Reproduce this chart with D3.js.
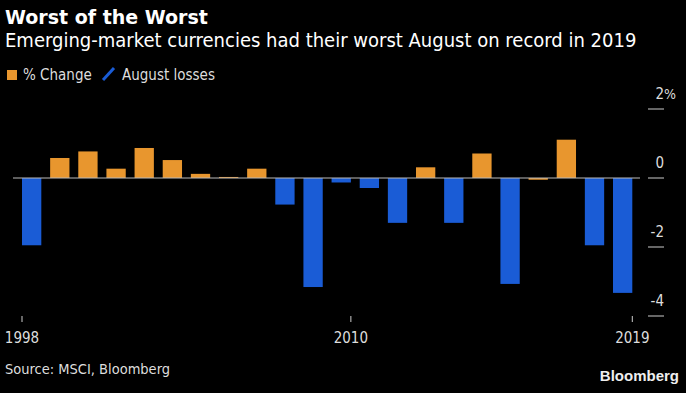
<!DOCTYPE html>
<html>
<head>
<meta charset="utf-8">
<script src="https://cdn.jsdelivr.net/npm/d3@7"></script>
<style>
  html, body { margin: 0; padding: 0; background: #000; }
  svg { display: block; }
  text { font-family: "DejaVu Sans Condensed", "DejaVu Sans", sans-serif; }
</style>
</head>
<body>
<script>
// August % change of EM currencies, 1998 - 2019
var years = [1998, 1999, 2000, 2001, 2002, 2003, 2004, 2005, 2006, 2007, 2008,
             2009, 2010, 2011, 2012, 2013, 2014, 2015, 2016, 2017, 2018, 2019];
var pct_change = [-1.95, 0.58, 0.77, 0.27, 0.87, 0.52, 0.12, 0.03, 0.27, -0.77, -3.16,
                  -0.13, -0.29, -1.30, 0.31, -1.30, 0.71, -3.07, -0.05, 1.11, -1.95, -3.33];
// years drawn in blue
var loss_years = [1998, 2007, 2008, 2009, 2010, 2011, 2013, 2015, 2018, 2019];
var y_ticks = [2, 0, -2, -4];
var x_ticks = [1998, 2010, 2019];

var width = 686;
var height = 393;
var orange = "#E8962E";
var blue = "#1A5CD6";

var svg = d3.select("body").append("svg")
    .attr("width", width)
    .attr("height", height);

// Titles
svg.append("text")
    .attr("x", 5).attr("y", 24)
    .style("font-family", "'DejaVu Sans', sans-serif")
    .style("font-weight", "bold")
    .style("font-size", "19px")
    .attr("fill", "#fff")
    .text("Worst of the Worst");

svg.append("text")
    .attr("x", 5).attr("y", 47)
    .style("font-size", "20px")
    .attr("fill", "#fff")
    .text("Emerging-market currencies had their worst August on record in 2019");

// Legend
var legend = svg.append("g");
legend.append("rect")
    .attr("x", 7).attr("y", 70)
    .attr("width", 10).attr("height", 10)
    .attr("fill", orange);
legend.append("text")
    .attr("x", 23).attr("y", 80)
    .style("font-size", "15px")
    .attr("fill", "#ddd")
    .text("% Change");
legend.append("line")
    .attr("x1", 103).attr("y1", 80)
    .attr("x2", 114).attr("y2", 68)
    .attr("stroke", blue)
    .attr("stroke-width", 3);
legend.append("text")
    .attr("x", 122).attr("y", 80)
    .style("font-size", "15px")
    .attr("fill", "#ddd")
    .text("August losses");

// Scales
var x = d3.scaleBand()
    .domain(years)
    .range([22, 632.3])
    .paddingInner(0.314)
    .paddingOuter(0);

var y = d3.scaleLinear()
    .domain([-4, 2])
    .range([316, 109]);

// Bars
svg.selectAll("rect.bar")
    .data(years)
    .enter()
    .append("rect")
    .attr("class", "bar")
    .attr("x", function (d) { return x(d); })
    .attr("width", x.bandwidth())
    .attr("y", function (d, i) { return y(Math.max(0, pct_change[i])); })
    .attr("height", function (d, i) { return Math.abs(y(pct_change[i]) - y(0)); })
    .attr("fill", function (d) { return loss_years.indexOf(d) >= 0 ? blue : orange; });

// Zero line
svg.append("line")
    .attr("x1", 13).attr("x2", 640)
    .attr("y1", y(0)).attr("y2", y(0))
    .attr("stroke", "#bbb")
    .attr("stroke-width", 1);

// Right axis: ticks under the labels
var y_axis = svg.append("g");
y_axis.selectAll("line")
    .data(y_ticks)
    .enter()
    .append("line")
    .attr("x1", 648).attr("x2", 664)
    .attr("y1", function (d) { return y(d); })
    .attr("y2", function (d) { return y(d); })
    .attr("stroke", "#ccc")
    .attr("stroke-width", 1);
y_axis.selectAll("text")
    .data(y_ticks)
    .enter()
    .append("text")
    .attr("x", 664)
    .attr("y", function (d) { return y(d) - 10; })
    .attr("text-anchor", "end")
    .style("font-size", "15px")
    .attr("fill", "#ddd")
    .text(function (d) { return d; });
// the % sign hangs past the right edge
y_axis.append("text")
    .attr("x", 664).attr("y", y(2) - 10)
    .style("font-size", "14px")
    .attr("fill", "#ddd")
    .text("%");

// Bottom axis: ticks fall on year boundaries
function year_pos(d) {
    if (d == years[0]) return x(d);
    if (d == years[years.length - 1]) return x(d) + x.bandwidth();
    return x(d - 1) + x.bandwidth();
}
var x_axis = svg.append("g");
x_axis.selectAll("line")
    .data(x_ticks)
    .enter()
    .append("line")
    .attr("x1", year_pos).attr("x2", year_pos)
    .attr("y1", 316).attr("y2", 322)
    .attr("stroke", "#ccc")
    .attr("stroke-width", 1);
x_axis.selectAll("text")
    .data(x_ticks)
    .enter()
    .append("text")
    .attr("x", year_pos)
    .attr("y", 343)
    .attr("text-anchor", "middle")
    .style("font-size", "15px")
    .attr("fill", "#ddd")
    .text(function (d) { return d; });

// Footer
svg.append("text")
    .attr("x", 5).attr("y", 374)
    .style("font-size", "14.5px")
    .attr("fill", "#ddd")
    .text("Source: MSCI, Bloomberg");

svg.append("text")
    .attr("x", 679).attr("y", 381)
    .attr("text-anchor", "end")
    .style("font-family", "'Liberation Sans', Arial, sans-serif")
    .style("font-weight", "bold")
    .style("font-size", "15px")
    .attr("fill", "#eee")
    .text("Bloomberg");
</script>
</body>
</html>
